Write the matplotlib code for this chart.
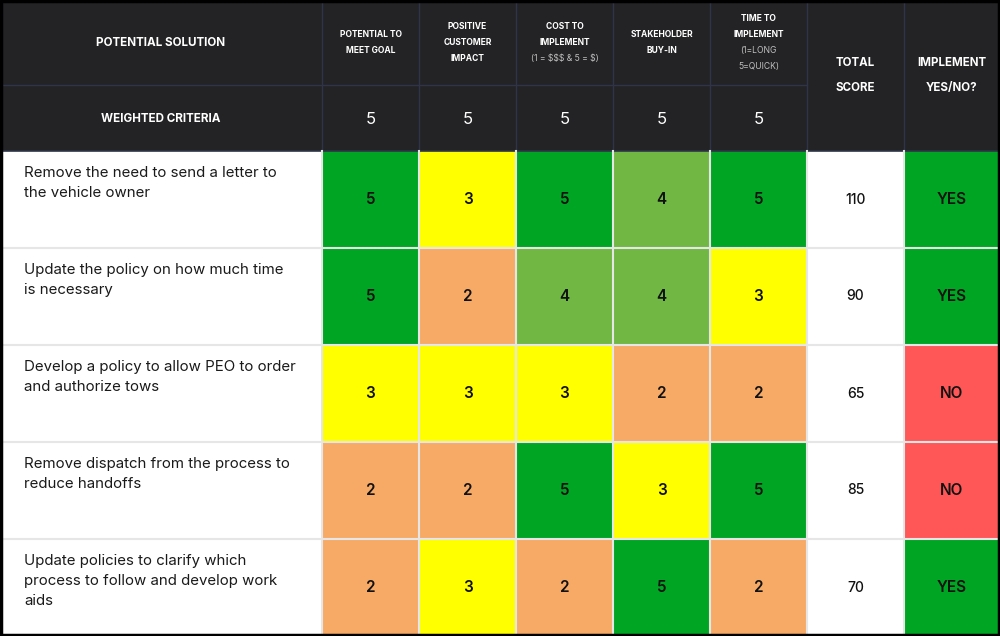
import matplotlib
matplotlib.use("Agg")
import matplotlib.pyplot as plt
from matplotlib.patches import Rectangle
import numpy as np

plt.rcParams['font.family'] = ['Inter', 'DejaVu Sans']
plt.rcParams['text.parse_math'] = False

# ---------------- data ----------------
solutions = [
    "Remove the need to send a letter to\nthe vehicle owner",
    "Update the policy on how much time\nis necessary",
    "Develop a policy to allow PEO to order\nand authorize tows",
    "Remove dispatch from the process to\nreduce handoffs",
    "Update policies to clarify which\nprocess to follow and develop work\naids",
]
criteria_titles = [
    ["POTENTIAL TO", "MEET GOAL"],
    ["POSITIVE", "CUSTOMER", "IMPACT"],
    ["COST TO", "IMPLEMENT"],
    ["STAKEHOLDER", "BUY-IN"],
    ["TIME TO", "IMPLEMENT"],
]
criteria_notes = [
    [],
    [],
    ["(1 = $$$ & 5 = $)"],
    [],
    ["(1=LONG", "5=QUICK)"],
]
weights = [5, 5, 5, 5, 5]
scores = [
    [5, 3, 5, 4, 5],
    [5, 2, 4, 4, 3],
    [3, 3, 3, 2, 2],
    [2, 2, 5, 3, 5],
    [2, 3, 2, 5, 2],
]
totals = [110, 90, 65, 85, 70]
implement = ["YES", "YES", "NO", "NO", "YES"]

score_colors = {5: "#00A524", 4: "#70B843", 3: "#FFFF00", 2: "#F7AA66"}
decision_colors = {"YES": "#00A524", "NO": "#FF5757"}

# ---------------- layout (pixels) ----------------
W, H = 1000, 636
col_widths = [322, 97, 97, 97, 97, 97, 97, 96]
header_top_h = 85
header_h = 151
row_h = 97
dark = "#232326"
hline = "#2E3548"
sep = "#E6E6E6"

col_edges = np.concatenate([[0], np.cumsum(col_widths)])
fig = plt.figure(figsize=(W / 100, H / 100), dpi=100)
ax = fig.add_axes([0, 0, 1, 1])
ax.set_xlim(0, W)
ax.set_ylim(H, 0)
ax.axis("off")

# header background
ax.add_patch(Rectangle((0, 0), W, header_h, facecolor=dark, edgecolor="none", zorder=0))
# header grid lines
for i in range(1, len(col_edges) - 1):
    ax.plot([col_edges[i]] * 2, [0, header_h], color=hline, lw=1, zorder=1)
ax.plot([0, col_edges[6]], [header_top_h] * 2, color=hline, lw=1, zorder=1)
ax.plot([0, W], [header_h, header_h], color=hline, lw=1.2, zorder=1)

# header texts
ax.text(col_edges[1] / 2, header_top_h / 2, "POTENTIAL SOLUTION", color="white",
        fontsize=8.4, fontweight="bold", ha="center", va="center")
ax.text(col_edges[1] / 2, (header_top_h + header_h) / 2 + 1, "WEIGHTED CRITERIA", color="white",
        fontsize=8.4, fontweight="bold", ha="center", va="center")
line_sp = 16
for j in range(5):
    cx = (col_edges[j + 1] + col_edges[j + 2]) / 2
    lines = [(t, True) for t in criteria_titles[j]] + [(t, False) for t in criteria_notes[j]]
    n = len(lines)
    y0 = header_top_h / 2 - (n - 1) * line_sp / 2
    for k, (t, bold) in enumerate(lines):
        ax.text(cx, y0 + k * line_sp, t, color="white" if bold else "#BFBFBF",
                fontsize=6.1 if bold else 6.2, fontweight="bold" if bold else "normal",
                ha="center", va="center")
    ax.text(cx, (header_top_h + header_h) / 2 + 1, str(weights[j]), color="white",
            fontsize=12, ha="center", va="center")

for j, lab in [(6, ["TOTAL", "SCORE"]), (7, ["IMPLEMENT", "YES/NO?"])]:
    cx = (col_edges[j] + col_edges[j + 1]) / 2
    for k, t in enumerate(lab):
        ax.text(cx, 63 + k * 25, t, color="white", fontsize=8.3, fontweight="bold",
                ha="center", va="center")

# body rows
for i, sol in enumerate(solutions):
    top = header_h + i * row_h
    cy = top + row_h / 2
    ax.add_patch(Rectangle((0, top), col_edges[1], row_h, facecolor="white",
                           edgecolor="none", zorder=0))
    ax.text(24, top + 15, sol, color="#1A1A1A", fontsize=10.8, ha="left", va="top",
            linespacing=1.56)
    for j, s in enumerate(scores[i]):
        x0 = col_edges[j + 1]
        ax.add_patch(Rectangle((x0, top), col_widths[j + 1], row_h,
                               facecolor=score_colors[s], edgecolor="none", zorder=0))
        ax.text(x0 + col_widths[j + 1] / 2, cy, str(s), color="#111111", fontsize=11,
                fontweight="semibold", ha="center", va="center")
    ax.add_patch(Rectangle((col_edges[6], top), col_widths[6], row_h, facecolor="white",
                           edgecolor="none", zorder=0))
    ax.text((col_edges[6] + col_edges[7]) / 2, cy, str(totals[i]), color="#111111",
            fontsize=10, fontweight="medium", ha="center", va="center")
    ax.add_patch(Rectangle((col_edges[7], top), col_widths[7], row_h,
                           facecolor=decision_colors[implement[i]], edgecolor="none", zorder=0))
    ax.text((col_edges[7] + col_edges[8]) / 2, cy, implement[i], color="#111111",
            fontsize=11, fontweight="semibold", ha="center", va="center")

# body separators
body_bottom = header_h + len(solutions) * row_h
for i in range(1, len(solutions)):
    y = header_h + i * row_h
    ax.plot([0, W], [y, y], color=sep, lw=1.5, zorder=2)
for i in range(1, len(col_edges) - 1):
    ax.plot([col_edges[i]] * 2, [header_h, body_bottom], color=sep, lw=1.5, zorder=2)

# outer border
ax.add_patch(Rectangle((0.5, 0.5), W - 1.5, H - 1.5, facecolor="none",
                       edgecolor="black", lw=2.5, zorder=5))

fig.savefig("out.png", dpi=100)
